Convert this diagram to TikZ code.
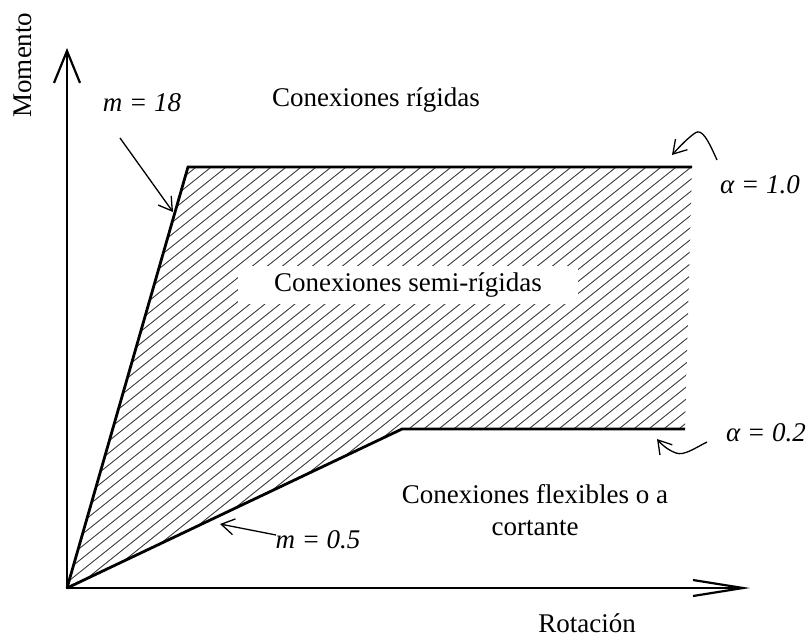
\documentclass[tikz,border=0pt]{standalone}
\usepackage{fontspec}
\setmainfont{Liberation Serif}
\usetikzlibrary{arrows.meta}
\begin{document}
\begin{tikzpicture}[x=1pt,y=-1pt,
  lbl/.style={font=\fontsize{27}{32}\selectfont, inner sep=0pt},
  ilbl/.style={font=\fontsize{27}{32}\selectfont\itshape, inner sep=0pt},
  axis/.style={line width=2.6pt},
  curve/.style={line width=2.8pt, line join=miter},
  hatchline/.style={line width=0.9pt, black!75},
  pointer/.style={line width=1.3pt, -{Straight Barb[length=13pt,width=16pt,line width=1.3pt]}},
]
\useasboundingbox (0,0) rectangle (811,638);
% key points
\coordinate (O) at (67,588);
\coordinate (Ytip) at (67,48);
\coordinate (Xtip) at (750,588);
\coordinate (A) at (188,167);
\coordinate (B) at (692,167);
\coordinate (C) at (402,429);
\coordinate (D) at (685,429);
% hatching
\begin{scope}
  \clip (O) -- (A) -- (B) -- (D) -- (C) -- cycle;
  \foreach \c in {-800,-785,...,800} {
    \draw[hatchline] (\c,640) -- ++(800,-640);
  }
\end{scope}
% axes
\draw[axis, line cap=rect, -{Straight Barb[length=32pt,width=26pt,line width=2.2pt]}] (O) -- (Ytip);
\draw[axis, line cap=rect, -{Straight Barb[length=50pt,width=16pt,line width=2.2pt]}] (O) -- (Xtip);
% curves
\draw[curve] (O) -- (A) -- (B);
\draw[curve] (O) -- (C) -- (D);
% labels
\node[lbl, fill=white, inner xsep=36pt, inner ysep=7pt] (semi) at (408,285) {Conexiones semi-rígidas};
\node[lbl] (rig) at (376,100) {Conexiones rígidas};
\node[lbl, align=center] (flex) at (535,510) {Conexiones flexibles o a\\cortante};
\node[lbl] (rot) at (587,623) {Rotación};
\node[lbl, rotate=90] (mom) at (23,65) {Momento};
\node[ilbl] (m18) at (142,103) {m = 18};
\node[ilbl] (m05) at (318,540) {m = 0.5};
\node[ilbl] (a10) at (760,185) {α = 1.0};
\node[ilbl] (a02) at (766,433) {α = 0.2};
% pointers
\coordinate (p18s) at (120,138);
\coordinate (p18e) at (173,212);
\draw[pointer] (p18s) -- (p18e);
\coordinate (p05s) at (276,535);
\coordinate (p05e) at (220,524);
\draw[pointer] (p05s) -- (p05e);
\coordinate (c1s) at (717,160);
\coordinate (c1e) at (672,155);
\draw[pointer] (c1s) .. controls (708,140) and (702,128) .. (695,133) .. controls (688,138) and (680,146) .. (c1e);
\coordinate (c2s) at (707,442);
\coordinate (c2e) at (657,439);
\draw[pointer] (c2s) .. controls (695,448) and (684,456) .. (676,453) .. controls (668,450) and (662,445) .. (c2e);
\end{tikzpicture}
\end{document}
